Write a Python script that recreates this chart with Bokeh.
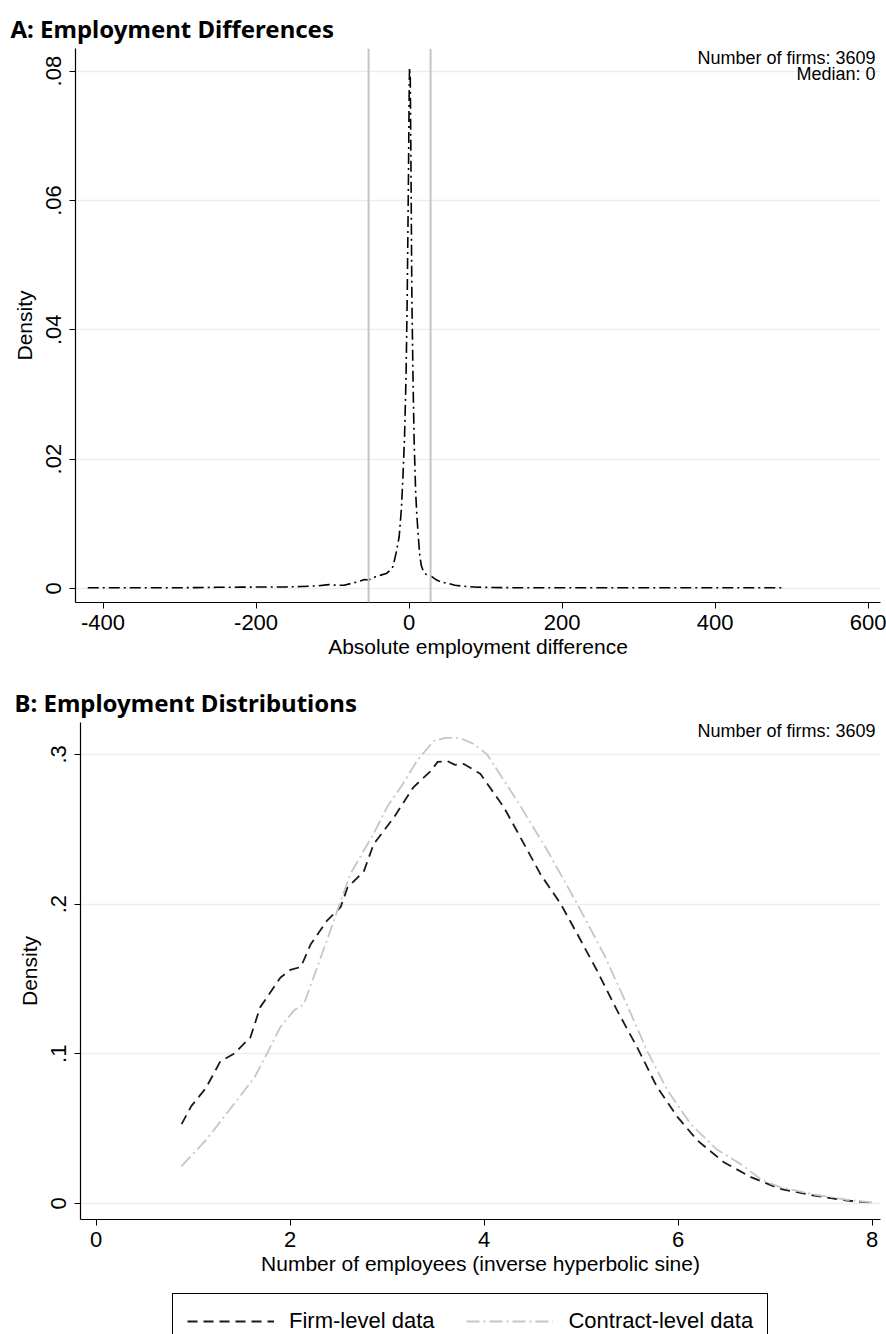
from bokeh.plotting import figure
from bokeh.models import Span, Label, Legend, LegendItem, FixedTicker, Range1d
from bokeh.layouts import column
from bokeh.embed import file_html
from bokeh.resources import INLINE

# ---------------- Data ----------------
# Panel A: density of absolute employment difference
diff_x = [-420, -400, -380, -350, -320, -300, -280, -250, -220, -200, -180, -160, -140, -120,
          -105, -95, -85, -75, -65, -58, -53, -48, -42, -36, -30, -25, -21, -17, -13, -10, -8,
          -6, -4, -2.5, -1, 0, 0.5, 1.5, 2.5, 3.5, 5, 6.5, 8.5, 10, 12, 14, 16, 19, 24, 30, 36,
          42, 50, 60, 75, 90, 110, 150, 200, 250, 300, 350, 400, 450, 490]
diff_y = [0.0001, 0.0001, 0.0001, 0.0001, 0.00012, 0.00012, 0.00013, 0.00018, 0.0002, 0.00022,
          0.00022, 0.00025, 0.0003, 0.0004, 0.0006, 0.0005, 0.0005, 0.0008, 0.0011, 0.0014,
          0.0013, 0.0016, 0.0019, 0.0021, 0.0023, 0.0028, 0.0034, 0.0055, 0.0080, 0.0125,
          0.0175, 0.0235, 0.0330, 0.0450, 0.0620, 0.0760, 0.0805, 0.0790, 0.0640, 0.0460,
          0.0330, 0.0230, 0.0150, 0.0115, 0.0080, 0.0050, 0.0035, 0.0025, 0.0020, 0.0018,
          0.0013, 0.0010, 0.0008, 0.0005, 0.0003, 0.0002, 0.00015, 0.0001, 0.0001, 0.0001,
          0.0001, 0.0001, 0.0001, 0.0001, 0.0001]
diff_cutoffs = [-53, 28]
n_firms = 3609
median_diff = 0

# Panel B: employment distributions (inverse hyperbolic sine)
firm_x = [0.88, 0.98, 1.13, 1.28, 1.42, 1.59, 1.69, 1.90, 2.0, 2.11, 2.21, 2.38, 2.52, 2.59, 2.76,
          2.86, 3.07, 3.27, 3.45, 3.52, 3.62, 3.70, 3.79, 3.96, 4.20, 4.37, 4.58, 4.79, 4.96,
          5.16, 5.37, 5.58, 5.78, 5.99, 6.20, 6.47, 6.75, 7.05, 7.40, 7.74, 8.0]
firm_y = [0.053, 0.065, 0.077, 0.095, 0.100, 0.111, 0.131, 0.151, 0.156, 0.158, 0.173, 0.189,
          0.198, 0.211, 0.222, 0.240, 0.258, 0.278, 0.289, 0.295, 0.2955, 0.293, 0.2936, 0.287,
          0.265, 0.245, 0.220, 0.200, 0.180, 0.156, 0.129, 0.104, 0.078, 0.058, 0.042, 0.0276,
          0.0176, 0.0098, 0.0053, 0.002, 0.0005]
contract_x = [0.88, 1.14, 1.32, 1.45, 1.63, 1.76, 1.90, 2.04, 2.14, 2.24, 2.38, 2.52, 2.62, 2.76,
              2.86, 3.0, 3.14, 3.31, 3.48, 3.6, 3.75, 3.89, 4.03, 4.34, 4.65, 4.96, 5.23, 5.47,
              5.68, 5.89, 6.13, 6.40, 6.64, 6.87, 7.05, 7.40, 7.74, 8.0]
contract_y = [0.025, 0.043, 0.058, 0.069, 0.084, 0.100, 0.118, 0.129, 0.133, 0.151, 0.176, 0.202,
              0.220, 0.236, 0.247, 0.265, 0.278, 0.296, 0.309, 0.311, 0.311, 0.307, 0.300, 0.269,
              0.236, 0.200, 0.167, 0.133, 0.102, 0.0755, 0.053, 0.036, 0.0265, 0.0154, 0.011,
              0.006, 0.0025, 0.0007]

a_xticks = [-400, -200, 0, 200, 400, 600]
a_xlabels = ["-400", "-200", "0", "200", "400", "600"]
a_yticks = [0, 0.02, 0.04, 0.06, 0.08]
a_ylabels = ["0", ".02", ".04", ".06", ".08"]
b_xticks = [0, 2, 4, 6, 8]
b_xlabels = ["0", "2", "4", "6", "8"]
b_yticks = [0, 0.1, 0.2, 0.3]
b_ylabels = ["0", ".1", ".2", ".3"]
legend_labels = ["Firm-level data", "Contract-level data"]

FONT = "Liberation Sans"
TFONT = "Noto Sans"
GRID = "#e6eff1"
DARK = "#1a1a1a"
LIGHT = "#c6c6c6"
DASH_FIRM = "10 6"
DASH_CONTRACT = "13 4 2 4"
W = 886


def style(p, xticks, xlabels, yticks, ylabels):
    p.outline_line_color = None
    p.xgrid.visible = False
    p.ygrid.ticker = FixedTicker(ticks=yticks)
    p.ygrid.grid_line_color = GRID
    p.ygrid.grid_line_width = 1.5
    p.xaxis.ticker = FixedTicker(ticks=xticks)
    p.xaxis.major_label_overrides = {t: l for t, l in zip(xticks, xlabels)}
    p.yaxis.ticker = FixedTicker(ticks=yticks)
    p.yaxis.major_label_overrides = {t: l for t, l in zip(yticks, ylabels)}
    p.yaxis.major_label_orientation = "vertical"
    for ax in (p.xaxis[0], p.yaxis[0]):
        ax.axis_line_color = "black"
        ax.axis_line_width = 1.2
        ax.major_tick_line_color = "black"
        ax.major_tick_out = 6
        ax.major_tick_in = 0
        ax.minor_tick_line_color = None
        ax.major_label_text_font = FONT
        ax.major_label_text_font_size = "22px"
        ax.major_label_text_color = "black"
        ax.axis_label_text_font = FONT
        ax.axis_label_text_font_size = "21px"
        ax.axis_label_text_font_style = "normal"
        ax.axis_label_text_color = "black"
    p.xaxis.major_label_standoff = 6
    p.xaxis.axis_label_standoff = 2
    p.yaxis.major_label_standoff = 8
    p.yaxis.axis_label_standoff = 8
    p.title.text_font = TFONT
    p.title.text_font_style = "bold"
    p.title.text_font_size = "24px"
    p.title.align = "left"
    p.title.text_color = "black"
    p.title.standoff = 8


def note(x, y, text):
    return Label(x=x, y=y, text=text, text_align="right", text_baseline="middle",
                 text_font=FONT, text_font_size="18px", text_color="black")


# ---------------- Panel A ----------------
ax0, ax1 = -436, 616
ay0, ay1 = -0.00217, 0.0835
pA = figure(width=W, height=672, x_range=Range1d(ax0, ax1), y_range=Range1d(ay0, ay1),
            output_backend="svg", toolbar_location=None, frame_align=False,
            min_border_left=75, min_border_right=6, min_border_top=48, min_border_bottom=70,
            title="A: Employment Differences",
            x_axis_label="Absolute employment difference", y_axis_label="Density")
style(pA, a_xticks, a_xlabels, a_yticks, a_ylabels)
pA.title.offset = -65

for c in diff_cutoffs:
    pA.add_layout(Span(location=c, dimension="height", line_color="#c4c4c4", line_width=2))

pA.line(diff_x, diff_y, line_color="black", line_width=1.6, line_dash="11 4 2 4")

pA.add_layout(note(ax1 - 6.5, ay1 - 0.0014, f"Number of firms: {n_firms}"))
pA.add_layout(note(ax1 - 6.5, ay1 - 0.0039, f"Median: {median_diff}"))

# ---------------- Panel B ----------------
bx0, bx1 = -0.162, 8.086
by0, by1 = -0.0107, 0.3213
pB = figure(width=W, height=617, x_range=Range1d(bx0, bx1), y_range=Range1d(by0, by1),
            output_backend="svg", toolbar_location=None, frame_align=False,
            min_border_left=80, min_border_right=6, min_border_top=50, min_border_bottom=70,
            title="B: Employment Distributions",
            x_axis_label="Number of employees (inverse hyperbolic sine)", y_axis_label="Density")
style(pB, b_xticks, b_xlabels, b_yticks, b_ylabels)
pB.title.offset = -66

pB.line(firm_x, firm_y, line_color=DARK, line_width=1.8, line_dash=DASH_FIRM)
pB.line(contract_x, contract_y, line_color=LIGHT, line_width=1.8, line_dash=DASH_CONTRACT)

pB.add_layout(note(bx1 - 0.052, by1 - 0.006, f"Number of firms: {n_firms}"))

# ---------------- Legend strip ----------------
pL = figure(width=W, height=45, x_range=Range1d(0, 1), y_range=Range1d(0, 1),
            output_backend="svg", toolbar_location=None, frame_align=False,
            min_border_left=0, min_border_right=0, min_border_top=0, min_border_bottom=0,
            x_axis_location=None, y_axis_location=None)
pL.outline_line_color = None
pL.grid.visible = False
nan = float("nan")
l_firm = pL.line(x=[nan], y=[nan], line_color=DARK, line_width=1.8, line_dash=DASH_FIRM)
l_con = pL.line(x=[nan], y=[nan], line_color=LIGHT, line_width=1.8, line_dash=DASH_CONTRACT)
legend = Legend(items=[LegendItem(label=legend_labels[0], renderers=[l_firm]),
                       LegendItem(label=legend_labels[1], renderers=[l_con])],
                orientation="horizontal", location=(172, -15),
                border_line_color="black", border_line_width=1, border_line_alpha=1,
                label_text_font=FONT, label_text_font_size="22px", label_text_color="black",
                glyph_width=87, glyph_height=20, label_standoff=15, spacing=32,
                padding=14, margin=0, background_fill_alpha=0)
pL.add_layout(legend)

layout = column(pA, pB, pL, spacing=0)
open("out.html", "w").write(file_html(layout, INLINE))
